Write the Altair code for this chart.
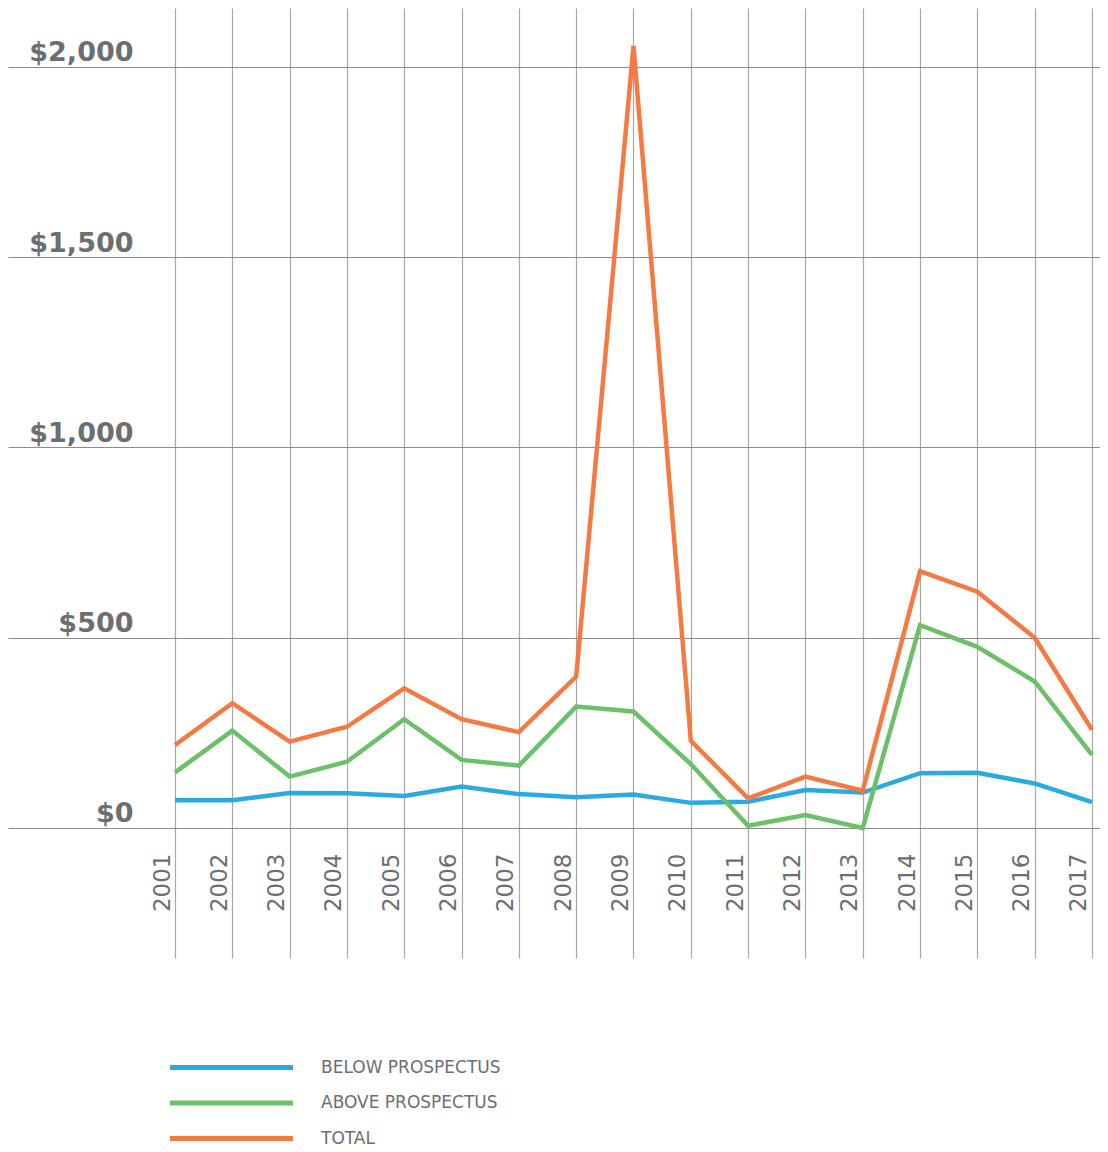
import altair as alt
import pandas as pd

years = list(range(2001, 2018))
below = [73, 73, 92, 91, 84, 109, 89, 81, 88, 66, 69, 100, 93, 144, 145, 117, 68]
above = [146, 256, 135, 174, 286, 179, 164, 319, 306, 168, 6, 34, 0, 533, 476, 385, 192]
total = [218, 328, 227, 266, 367, 286, 252, 398, 2055, 229, 78, 135, 98, 675, 621, 500, 258]

series_names = ["BELOW PROSPECTUS", "ABOVE PROSPECTUS", "TOTAL"]
series_colors = ["#29abe2", "#6cc067", "#f47a42"]
y_ticks = [0, 500, 1000, 1500, 2000]

rows = []
for name, vals in zip(series_names, [below, above, total]):
    for yr, v in zip(years, vals):
        rows.append({"year": yr, "value": v, "series": name})
df = pd.DataFrame(rows)

label_color = "#6d6e71"

chart = alt.Chart(df).mark_line(strokeWidth=4.5, strokeJoin="miter").encode(
    x=alt.X(
        "year:Q",
        scale=alt.Scale(domain=[1998.086, 2017.14], nice=False, zero=False),
        axis=alt.Axis(
            values=years,
            title=None,
            format="d",
            domain=False,
            ticks=False,
            grid=True,
            gridColor="#a8a8a8",
            gridWidth=1.2,
            labelAngle=270,
            labelAlign="right",
            labelBaseline="alphabetic",
            labelPadding=-105,
            labelOffset=-6,
            labelFont="DejaVu Sans",
            labelFontSize=23,
            labelColor=label_color,
            labelOverlap=False,
        ),
    ),
    y=alt.Y(
        "value:Q",
        scale=alt.Scale(domain=[-341.7, 2155], nice=False, zero=False),
        axis=alt.Axis(
            values=y_ticks,
            title=None,
            format="$,d",
            domain=False,
            ticks=False,
            grid=True,
            gridColor="#8c8c8c",
            gridWidth=1.2,
            labelAlign="right",
            labelBaseline="alphabetic",
            labelPadding=-125,
            labelOffset=-6,
            labelFont="DejaVu Sans",
            labelFontSize=27,
            labelFontWeight=600,
            labelColor=label_color,
        ),
    ),
    color=alt.Color(
        "series:N",
        scale=alt.Scale(domain=series_names, range=series_colors),
        sort=series_names,
        legend=alt.Legend(
            title=None,
            orient="none",
            legendX=215,
            legendY=1051,
            symbolType="M-12.3,0H12.3",
            symbolSize=100,
            symbolStrokeWidth=5,
            symbolFillColor="transparent",
            labelFont="DejaVu Sans",
            labelFontSize=17,
            labelColor=label_color,
            labelOffset=81,
            rowPadding=14.5,
            direction="vertical",
        ),
    ),
).properties(
    width=1092,
    height=950,
    padding={"left": 0, "top": 0, "right": 0, "bottom": 190},
    autosize=alt.AutoSizeParams(type="none"),
).configure_view(strokeWidth=0).configure_legend(labelLimit=400)

chart.save("out.html", embed_options={"renderer": "svg", "actions": False})
